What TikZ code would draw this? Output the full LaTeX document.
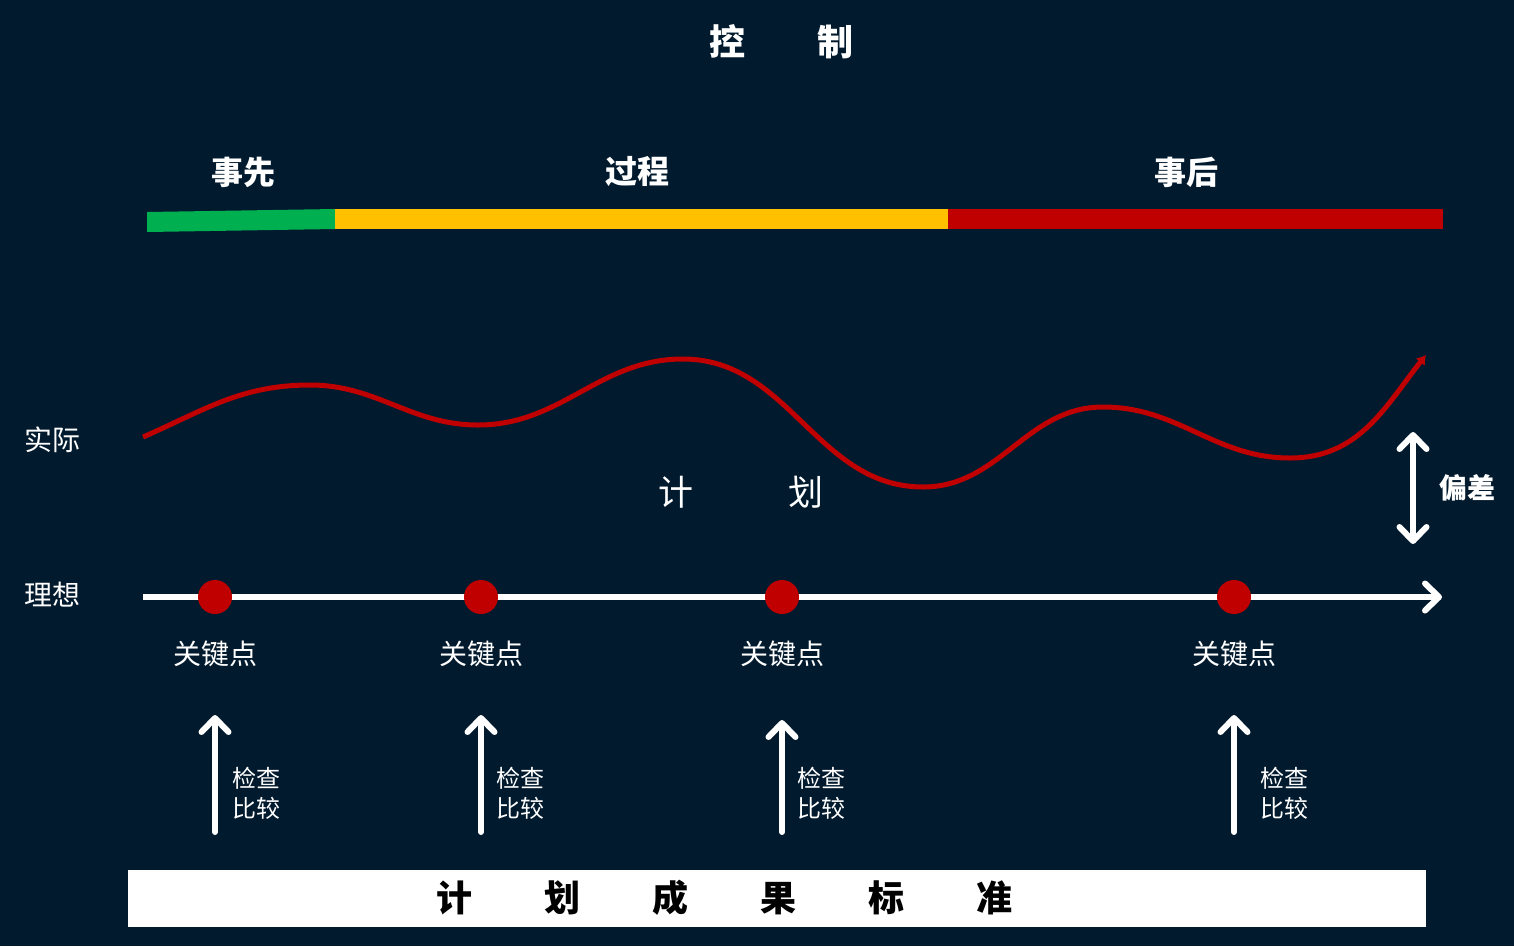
\documentclass[tikz,border=0pt]{standalone}
\usepackage{fontspec}
\setmainfont{Noto Sans CJK SC}
\usepackage{tikz}
\usetikzlibrary{arrows.meta}
\definecolor{fond}{HTML}{021A2E}
\definecolor{rouge}{HTML}{C00000}
\definecolor{vert}{HTML}{00B050}
\definecolor{jaune}{HTML}{FFC000}
\newcommand*{\rayonPoint}{17}
\newcommand*{\yAxe}{597}
\newcommand*{\taille}[1]{\fontsize{#1}{1.25\dimexpr#1pt\relax}\selectfont}
\tikzset{
	pointe/.tip={Straight Barb[length=14pt,width=27pt,round]},
	fleche/.style={white,line width=6pt,line cap=round,-pointe},
	pointCle/.style={circle,fill=rouge,minimum size=2*\rayonPoint pt,inner sep=0pt},
	phase/.style={text=white,font=\bfseries\taille{32}},
	cote/.style={text=white,font=\taille{28}},
	cle/.style={text=white,font=\taille{28}},
	verif/.style={text=white,font=\fontsize{24}{30}\selectfont,align=left,anchor=west,inner sep=0pt}
}

\begin{document}
\begin{tikzpicture}[x=1pt,y=-1pt]
	\fill[fond] (0,0) rectangle (1514,946);
	\useasboundingbox (0,0) rectangle (1514,946);
	
	\node[text=white,font=\bfseries\taille{36}] (controle) at (781,42) {控\hspace{2em}制};
	
	% phases
	\node[phase] (avant) at (243,172) {事先};
	\node[phase] (pendant) at (637,172) {过程};
	\node[phase] (apres) at (1186,172) {事后};
	\fill[vert] (147,212)--(335,209)--(335,229)--(147,232)--cycle;
	\fill[jaune] (335,209) rectangle (948,229);
	\fill[rouge] (948,209) rectangle (1443,229);
	
	% courbe reelle
	\coordinate (c0) at (143,437);
	\coordinate (c1) at (310,385);
	\coordinate (c2) at (478,425);
	\coordinate (c3) at (683,359);
	\coordinate (c4) at (923,487);
	\coordinate (c5) at (1103,407);
	\coordinate (c6) at (1290,458);
	\coordinate (c7) at (1426,355);
	\draw[rouge,line width=5pt,-{Latex[length=9pt,width=12pt]}]
		(c0) .. controls +(60,-26) and +(-70,0) .. (c1)
		to[out=0,in=180] (c2)
		to[out=0,in=180] (c3)
		to[out=0,in=180] (c4)
		to[out=0,in=180] (c5)
		to[out=0,in=180] (c6)
		.. controls +(70,0) and +(-40,50) .. (c7);
	
	\node[cote] (reel) at (52,440) {实际};
	\node[cote] (ideal) at (52,595) {理想};
	\node[text=white,font=\taille{35}] (plan) at (741,492) {计\hspace{2.7em}划};
	
	% ecart
	\coordinate (e1) at (1413,432);
	\coordinate (e2) at (1413,544);
	\draw[fleche,pointe-pointe] (e2) -- (e1);
	\node[text=white,font=\bfseries\taille{28}] (ecart) at (1467,488) {偏差};
	
	% axe ideal
	\coordinate (axeDebut) at (143,\yAxe);
	\coordinate (axeFin) at (1442,\yAxe);
	\draw[fleche,line cap=butt] (axeDebut) -- (axeFin);
	
	\foreach \x/\xt/\yh [count=\i] in {215/232/715,481/496/715,782/797/720,1234/1260/715}{
		\node[pointCle] (p\i) at (\x,\yAxe) {};
		\node[cle] (k\i) at (\x,654) {关键点};
		\coordinate (b\i) at (\x,832);
		\coordinate (h\i) at (\x,\yh);
		\draw[fleche] (b\i) -- (h\i);
		\node[verif] (v\i) at (\xt,793) {检查\\比较};
	}
	
	% standard
	\node[fill=white,minimum width=1298pt,minimum height=57pt,inner sep=0pt] (norme) at (777,898.5) {};
	\node[text=black,font=\bfseries\taille{36}] (normeTexte) at (724,898)
		{计\hspace{2em}划\hspace{2em}成\hspace{2em}果\hspace{2em}标\hspace{2em}准};
\end{tikzpicture}
\end{document}
